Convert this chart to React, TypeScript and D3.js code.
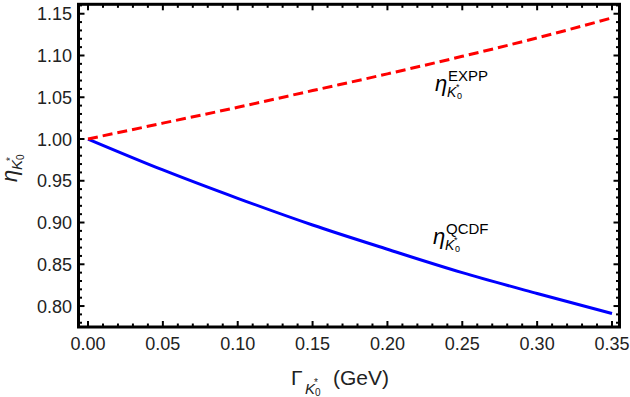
import React from "react";
import * as d3 from "d3";

// widths Gamma_K0* in GeV
const gammaValues = [0, 0.05, 0.1, 0.15, 0.2, 0.25, 0.3, 0.35];
// eta for the two approaches
const etaExpp = [1.0, 1.019, 1.038, 1.058, 1.078, 1.099, 1.121, 1.145];
const etaQcdf = [1.0, 0.963, 0.929, 0.897, 0.868, 0.84, 0.815, 0.791];

const xTicks = [0, 0.05, 0.1, 0.15, 0.2, 0.25, 0.3, 0.35];
const yTicks = [0.8, 0.85, 0.9, 0.95, 1.0, 1.05, 1.1, 1.15];

const W = 630;
const H = 397;
const left = 78.5;
const right = 619.5;
const top = 4.3;
const bottom = 327;

const font = "'Liberation Sans', Arial, sans-serif";

// eta_{K0*} with a superscript tag, drawn at baseline (x, y)
function EtaLabel({ x, y, tag }: { x: number; y: number; tag: string }) {
  return (
    <g fontFamily={font} fill="#000">
      <text x={x} y={y} fontSize={22} fontStyle="italic">
        η
      </text>
      <text x={x + 13} y={y - 10} fontSize={15}>
        {tag}
      </text>
      <text x={x + 12} y={y + 6} fontSize={14} fontStyle="italic">
        K
      </text>
      <text x={x + 21} y={y - 1} fontSize={9}>
        *
      </text>
      <text x={x + 22} y={y + 8} fontSize={9}>
        0
      </text>
    </g>
  );
}

export default function App() {
  const x = d3.scaleLinear().domain([-0.00635, 0.35501]).range([left, right]);
  const y = d3.scaleLinear().domain([0.7749, 1.1613]).range([bottom, top]);

  const line = d3
    .line<number>()
    .x((_, i) => x(gammaValues[i]))
    .y((d) => y(d))
    .curve(d3.curveMonotoneX);

  const xMinor = d3.range(0, 0.3551, 0.01);
  const yMinor = d3.range(0.78, 1.161, 0.01);

  const ticks: JSX.Element[] = [];
  xMinor.forEach((v, i) => {
    const major = xTicks.some((t) => Math.abs(t - v) < 1e-6);
    const len = major ? 6 : 3.5;
    ticks.push(
      <line key={"xb" + i} x1={x(v)} x2={x(v)} y1={bottom} y2={bottom - len} stroke="#000" strokeWidth={2} />,
      <line key={"xt" + i} x1={x(v)} x2={x(v)} y1={top} y2={top + len} stroke="#000" strokeWidth={2} />
    );
  });
  yMinor.forEach((v, i) => {
    const major = yTicks.some((t) => Math.abs(t - v) < 1e-6);
    const len = major ? 6 : 3.5;
    ticks.push(
      <line key={"yl" + i} x1={left} x2={left + len} y1={y(v)} y2={y(v)} stroke="#000" strokeWidth={2} />,
      <line key={"yr" + i} x1={right} x2={right - len} y1={y(v)} y2={y(v)} stroke="#000" strokeWidth={2} />
    );
  });

  return (
    <svg
      width={W}
      height={H}
      style={{ position: "absolute", left: 0, top: 0, background: "#fff" }}
    >
      <path d={line(etaQcdf) || ""} fill="none" stroke="#0000ff" strokeWidth={3} />
      <path
        d={line(etaExpp) || ""}
        fill="none"
        stroke="#ff0000"
        strokeWidth={3}
        strokeDasharray="10,5"
      />

      <rect
        x={left}
        y={top}
        width={right - left}
        height={bottom - top}
        fill="none"
        stroke="#000"
        strokeWidth={3}
      />
      {ticks}

      <g fontFamily={font} fontSize={18} fill="#222">
        {yTicks.map((t) => (
          <text key={t} x={72} y={y(t) + 6.5} textAnchor="end">
            {t.toFixed(2)}
          </text>
        ))}
        {xTicks.map((t) => (
          <text key={t} x={x(t)} y={350} textAnchor="middle">
            {t.toFixed(2)}
          </text>
        ))}
      </g>

      <EtaLabel x={435} y={91} tag="EXPP" />
      <EtaLabel x={433} y={244} tag="QCDF" />

      {/* x axis title */}
      <g fontFamily={font} fill="#222">
        <text x={291} y={385} fontSize={21}>
          Γ
        </text>
        <text x={305} y={394} fontSize={15} fontStyle="italic">
          K
        </text>
        <text x={314} y={386} fontSize={10}>
          *
        </text>
        <text x={315} y={396} fontSize={10}>
          0
        </text>
        <text x={333} y={385} fontSize={21}>
          (GeV)
        </text>
      </g>

      {/* y axis title */}
      <g transform="translate(17,182) rotate(-90)" fontFamily={font} fill="#222">
        <text x={0} y={0} fontSize={22} fontStyle="italic">
          η
        </text>
        <text x={12} y={5} fontSize={15} fontStyle="italic">
          K
        </text>
        <text x={21} y={-3} fontSize={10}>
          *
        </text>
        <text x={22} y={7} fontSize={10}>
          0
        </text>
      </g>
    </svg>
  );
}
